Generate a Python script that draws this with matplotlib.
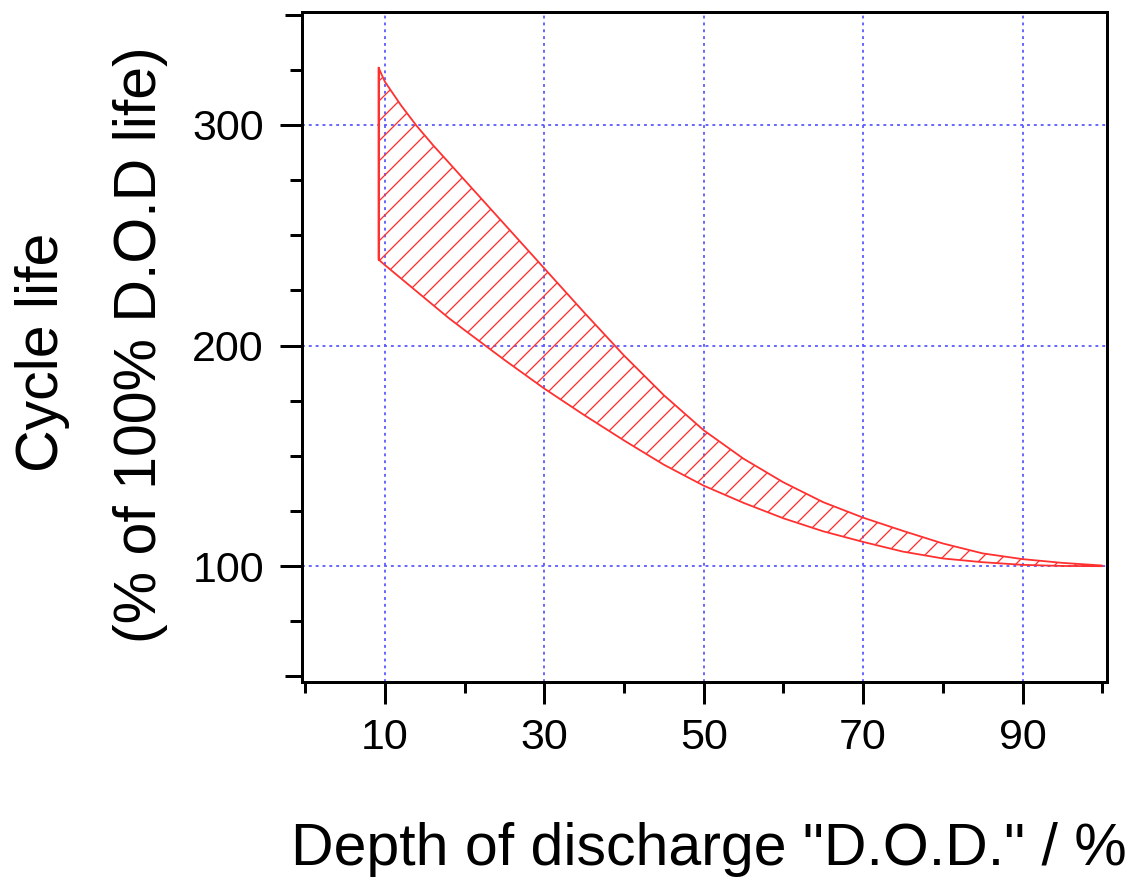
import matplotlib
matplotlib.use("Agg")
import matplotlib.pyplot as plt
from matplotlib.ticker import FixedLocator, NullFormatter

# Depth of discharge (%) and cycle-life band (% of 100 % DOD life)
dod = [9.2, 10, 12, 14, 16, 18, 20, 25, 30, 35, 40, 45, 50, 55, 60, 65, 70,
       75, 80, 85, 90, 95, 100]
life_upper = [326, 319.6, 309, 299.5, 291, 283, 275, 255, 235, 215, 195.5,
              177.5, 161.6, 148.7, 138, 129, 122, 116, 110.3, 105.8, 103.2,
              101.5, 100.3]
life_lower = [239, 236.5, 230.5, 224.5, 218.5, 212.5, 207, 193.5, 180.5,
              168.5, 157, 146, 136.5, 128.7, 121.7, 115.8, 111, 106.6, 103.5,
              101.8, 100.6, 100.1, 100]

x_major = [10, 30, 50, 70, 90]
x_minor = [0, 20, 40, 60, 80, 100]
y_major = [100, 200, 300]
y_minor = [75, 125, 150, 175, 225, 250, 275, 325]
y_edge = [50, 350]

DPI = 120
px = 72.0 / DPI  # points per pixel
RED = "#ff3030"

plt.rcParams["font.family"] = ["Liberation Sans", "DejaVu Sans"]
plt.rcParams["hatch.linewidth"] = 1.3 * px
plt.rcParams["hatch.color"] = RED

fig = plt.figure(figsize=(1130 / DPI, 877 / DPI), dpi=DPI)
ax = fig.add_axes([302 / 1130, 1 - 682 / 877, (1107 - 302) / 1130, (682 - 12) / 877])

ax.set_xlim(-0.4, 100.6)
ax.set_ylim(47.5, 351.2)

# grid
grid_kw = dict(color="#5a5aff", lw=1.8 * px, ls=(0, (1.6, 2.2)), zorder=1)
for xv in x_major:
    ax.axvline(xv, **grid_kw)
for yv in y_major:
    ax.axhline(yv, **grid_kw)

# hatched band
ax.fill_between(dod, life_lower, life_upper, facecolor="none",
                edgecolor=RED, hatch="//", lw=1.8 * px, zorder=2)
ax.plot([dod[0], dod[0]], [life_lower[0], life_upper[0]], color=RED,
        lw=2.0 * px, zorder=3)

# ticks
ax.xaxis.set_major_locator(FixedLocator(x_major))
ax.xaxis.set_minor_locator(FixedLocator(x_minor))
ax.yaxis.set_major_locator(FixedLocator(y_major + y_edge))
ax.yaxis.set_minor_locator(FixedLocator(y_minor))
ax.set_xticklabels([str(v) for v in x_major])
ax.set_yticklabels([str(v) for v in y_major] + ["", ""])
ax.xaxis.set_minor_formatter(NullFormatter())

lw = 3 * px
ax.tick_params(axis="both", which="both", direction="out", width=lw,
               top=False, right=False, colors="black")
ax.tick_params(axis="x", which="major", length=22 * px, pad=14 * px,
               labelsize=43 * px)
ax.tick_params(axis="x", which="minor", length=11 * px)
ax.tick_params(axis="y", which="major", length=22 * px, pad=16 * px,
               labelsize=43 * px)
ax.tick_params(axis="y", which="minor", length=12 * px)
for t, v in zip(ax.yaxis.get_major_ticks(), y_major + y_edge):
    if v in y_edge:
        t.tick1line.set_markersize(17 * px)

for s in ax.spines.values():
    s.set_linewidth(lw)

# axis titles
fig.text(709 / 1130, 1 - 865 / 877, 'Depth of discharge "D.O.D." / %',
         ha="center", va="baseline", fontsize=59 * px)
fig.text(58 / 1130, 1 - 352 / 877, "Cycle life", rotation=90,
         rotation_mode="anchor", ha="center", va="baseline", fontsize=59 * px)
fig.text(156 / 1130, 1 - 345 / 877, "(% of 100% D.O.D life)", rotation=90,
         rotation_mode="anchor", ha="center", va="baseline", fontsize=59 * px)

fig.savefig("out.png", dpi=DPI)
